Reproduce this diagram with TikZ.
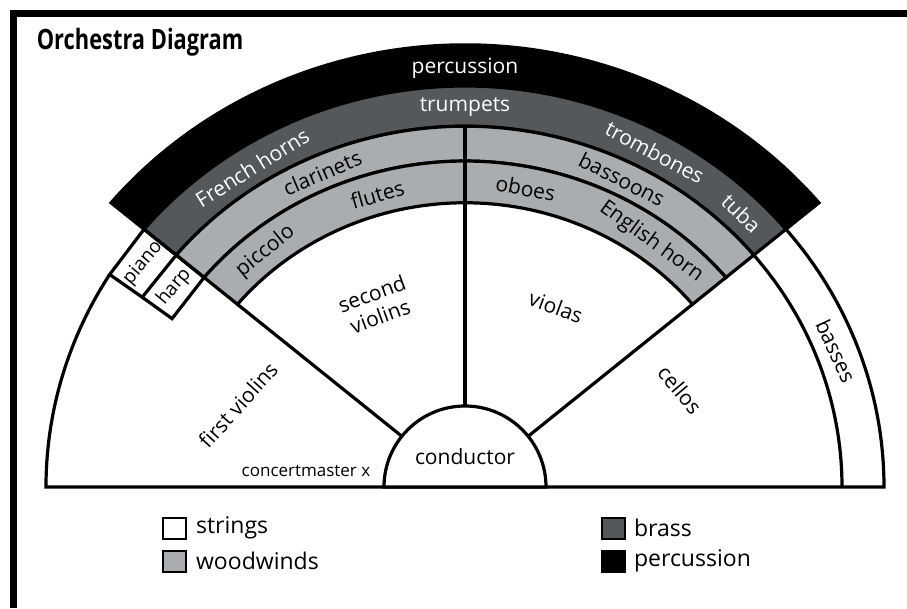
\documentclass[tikz,border=0pt]{standalone}
\usepackage{fontspec}
\setmainfont{Open Sans}
\usepackage{tikz}
\usetikzlibrary{positioning, calc}
\definecolor{brassgray}{RGB}{84,88,91}
\definecolor{windgray}{RGB}{170,173,176}

\begin{document}
\begin{tikzpicture}[x=1pt, y=1pt, line width=3.2pt,
    lbl/.style={font=\fontsize{21}{24}\selectfont, inner sep=0pt},
    wlbl/.style={lbl, text=white},
    keybox/.style={draw, line width=2pt, minimum width=23pt, minimum height=21pt, inner sep=0pt},
    keytext/.style={font=\fontsize{23}{26}\selectfont, inner sep=0pt}]
        \useasboundingbox (-465,-121) rectangle (442,487);
        \draw[line width=6.5pt] (-451.5,-121) |- (442,473.5);
        \node[font=\bfseries\fontsize{28}{30}\selectfont, xscale=0.78, anchor=base west] (title) at (-432,437) {Orchestra Diagram};

        \begin{scope}[yscale=0.957]
        % percussion, brass, woodwinds
        \filldraw[fill=black] (40:419) arc[start angle=40, end angle=140, radius=419] -- (140:462) arc[start angle=140, end angle=40, radius=462] -- cycle;
        \filldraw[fill=brassgray] (40:377) arc[start angle=40, end angle=140, radius=377] -- (140:419) arc[start angle=140, end angle=40, radius=419] -- cycle;
        \filldraw[fill=windgray] (40:340.6) arc[start angle=40, end angle=140, radius=340.6] -- (140:377) arc[start angle=140, end angle=40, radius=377] -- cycle;
        \filldraw[fill=windgray] (40:297) arc[start angle=40, end angle=140, radius=297] -- (140:340.6) arc[start angle=140, end angle=40, radius=340.6] -- cycle;

        \draw (40:78) -- (40:297);
        \draw (140:78) -- (140:297);
        \draw (90:78) -- (90:377);
        \draw (148:419) arc[start angle=148, end angle=180, radius=419] -- (0:419) arc[start angle=0, end angle=40, radius=419];
        \draw (0:377) arc[start angle=0, end angle=40, radius=377];

        \coordinate (pn1) at (140:419);
        \coordinate (pn2) at (140:377);
        \coordinate (hp2) at (140:340.6);
        \coordinate (pn3) at ($(pn2)+(-34,-44)$);
        \coordinate (hp3) at ($(hp2)+(-32,-43)$);
        \draw (pn1) -- (pn2) -- (pn3) -- (148:419) -- cycle;
        \draw (pn2) -- (hp2) -- (hp3) -- (pn3);

        \node[wlbl] (perc) at (90:437) {percussion};
        \node[wlbl] (trp) at (90:397) {trumpets};
        \node[wlbl, rotate=32] (fh) at (122.5:396) {French horns};
        \node[wlbl, rotate=-28] (trb) at (61.5:398) {trombones};
        \node[wlbl, rotate=-44] (tuba) at (46:398) {tuba};
        \node[lbl, rotate=23] (clar) at (113.5:358) {clarinets};
        \node[lbl, rotate=-27] (bsn) at (64:358) {bassoons};
        \node[lbl, rotate=16] (fl) at (106:318) {flutes};
        \node[lbl, rotate=39] (picc) at (129:317) {piccolo};
        \node[lbl, rotate=-11] (ob) at (79:318) {oboes};
        \node[lbl, rotate=-36] (eh) at (54:317) {English horn};
        \end{scope}

        \filldraw[fill=white] (81,0) arc[start angle=0, end angle=180, radius=81] -- cycle;

        \node[lbl, font=\fontsize{19}{22}\selectfont, rotate=50] (piano) at ($(pn1)!0.5!(pn3)$) {piano};
        \node[lbl, font=\fontsize{19}{22}\selectfont, rotate=50] (harp) at ($(pn2)!0.5!(hp3)$) {harp};
        \node[lbl, rotate=20, align=center] (vn2) at (-89,182) {second\\violins};
        \node[lbl, rotate=-20] (vla) at (91,180) {violas};
        \node[lbl, rotate=48] (vn1) at (-227,82) {first violins};
        \node[lbl, rotate=-50] (vc) at (215,97) {cellos};
        \node[lbl, rotate=-65] (cb) at (371,136) {basses};
        \node[lbl] (cond) at (0,30) {conductor};
        \node[font=\fontsize{17}{20}\selectfont, inner sep=0pt] (cm) at (-159,16) {concertmaster x};

        \node[keybox, fill=white] (kstr) at (-290,-41) {};
        \node[keybox, fill=windgray, below=10pt of kstr] (kwind) {};
        \node[keybox, fill=brassgray] (kbrass) at (148,-41) {};
        \node[keybox, fill=black, below=10pt of kbrass] (kperc) {};
        \node[keytext, right=7pt of kstr] {strings};
        \node[keytext, right=7pt of kwind] {woodwinds};
        \node[keytext, right=7pt of kbrass] {brass};
        \node[keytext, right=7pt of kperc] {percussion};
    \end{tikzpicture}
\end{document}
